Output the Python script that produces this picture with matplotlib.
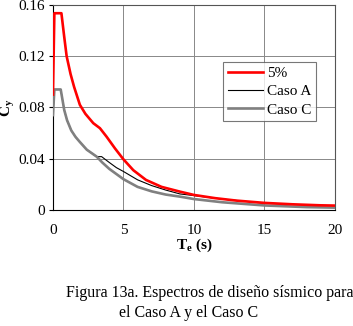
import matplotlib
matplotlib.use("Agg")
import matplotlib.pyplot as plt

# espectro 5%
t_red = [0, 0.1, 0.6, 0.8, 0.97, 1.25, 1.5, 1.91, 2.3, 2.86, 3.33, 3.8, 4.4, 4.99,
         5.7, 6.6, 7.7, 9.0, 10.0, 11.5, 13, 15, 17, 19, 20]
c_red = [0.09, 0.1535, 0.1535, 0.135, 0.120, 0.106, 0.096, 0.082, 0.075, 0.0677,
         0.0638, 0.0572, 0.048, 0.0396, 0.031, 0.0234, 0.018, 0.0143, 0.0117,
         0.0092, 0.0073, 0.0055, 0.0044, 0.0036, 0.0034]

# Caso A
t_a = [0, 0.1, 0.55, 0.8, 1.0, 1.3, 1.6, 1.91, 2.4, 3.1, 3.45, 4.0, 4.5, 5.0,
       6.0, 7.0, 8.0, 9.0, 10, 12, 15, 18, 20]
c_a = [0.074, 0.094, 0.094, 0.078, 0.070, 0.062, 0.057, 0.053, 0.047, 0.0416,
       0.0416, 0.037, 0.033, 0.030, 0.0235, 0.019, 0.0155, 0.0125, 0.0112,
       0.0085, 0.0052, 0.0038, 0.0033]

# Caso C
t_c = [0, 0.1, 0.55, 0.8, 1.0, 1.3, 1.6, 1.91, 2.4, 3.1, 3.5, 4.0, 4.5, 5.0,
       6.0, 7.0, 8.0, 9.0, 10, 12, 15, 18, 20]
c_c = [0.074, 0.094, 0.094, 0.078, 0.070, 0.062, 0.057, 0.053, 0.047, 0.0416,
       0.037, 0.032, 0.028, 0.024, 0.018, 0.0145, 0.012, 0.0104, 0.0085,
       0.006, 0.0035, 0.0022, 0.0018]

x_ticks = [0, 5, 10, 15, 20]
y_ticks = [0, 0.04, 0.08, 0.12, 0.16]
y_labels = ["0", "0.04", "0.08", "0.12", "0.16"]

plt.rcParams['font.family'] = ['Liberation Serif', 'DejaVu Serif']
plt.rcParams['mathtext.fontset'] = 'custom'
plt.rcParams['mathtext.rm'] = 'Liberation Serif'
plt.rcParams['mathtext.it'] = 'Liberation Serif:italic'
plt.rcParams['mathtext.bf'] = 'Liberation Serif:bold'

fig = plt.figure(figsize=(3.53, 3.26), dpi=100)
ax = fig.add_axes([0.150, 0.356, 0.799, 0.629])

ax.plot(t_red, c_red, color="#ff0000", lw=1.9, label="5%", zorder=4)
ax.plot(t_a, c_a, color="black", lw=0.8, label="Caso A", zorder=2)
ax.plot(t_c, c_c, color="#808080", lw=1.9, label="Caso C", zorder=3)

ax.set_xlim(0, 20)
ax.set_ylim(0, 0.16)
ax.set_xticks(x_ticks)
ax.set_yticks(y_ticks)
ax.set_yticklabels(y_labels)
ax.grid(True, color="#888888", lw=0.7)
ax.set_axisbelow(True)
ax.tick_params(axis="x", length=0, pad=10, labelsize=11)
ax.tick_params(axis="y", length=3, direction="out", labelsize=11, pad=3)
for s in ["top", "right"]:
    ax.spines[s].set_color("#555555")
    ax.spines[s].set_linewidth(0.8)

ax.set_xlabel(r"$\mathbf{T_e}$ $\mathbf{(s)}$", fontsize=11, labelpad=0)
ax.set_ylabel(r"$\mathbf{C_y}$", fontsize=11, labelpad=1)

leg = ax.legend(loc="upper left", bbox_to_anchor=(0.603, 0.722), fontsize=11,
                frameon=True, fancybox=False, edgecolor="#555555",
                handlelength=2.3, borderpad=0.3, labelspacing=0.3,
                handletextpad=0.3, borderaxespad=0)
leg.get_frame().set_linewidth(0.8)

fig.text(0.595, 0.088, "Figura 13a. Espectros de diseño sísmico para",
         ha="center", fontsize=11.5)
fig.text(0.535, 0.028, "el Caso A y el Caso C", ha="center", fontsize=11.5)

fig.savefig("out.png", dpi=100)
